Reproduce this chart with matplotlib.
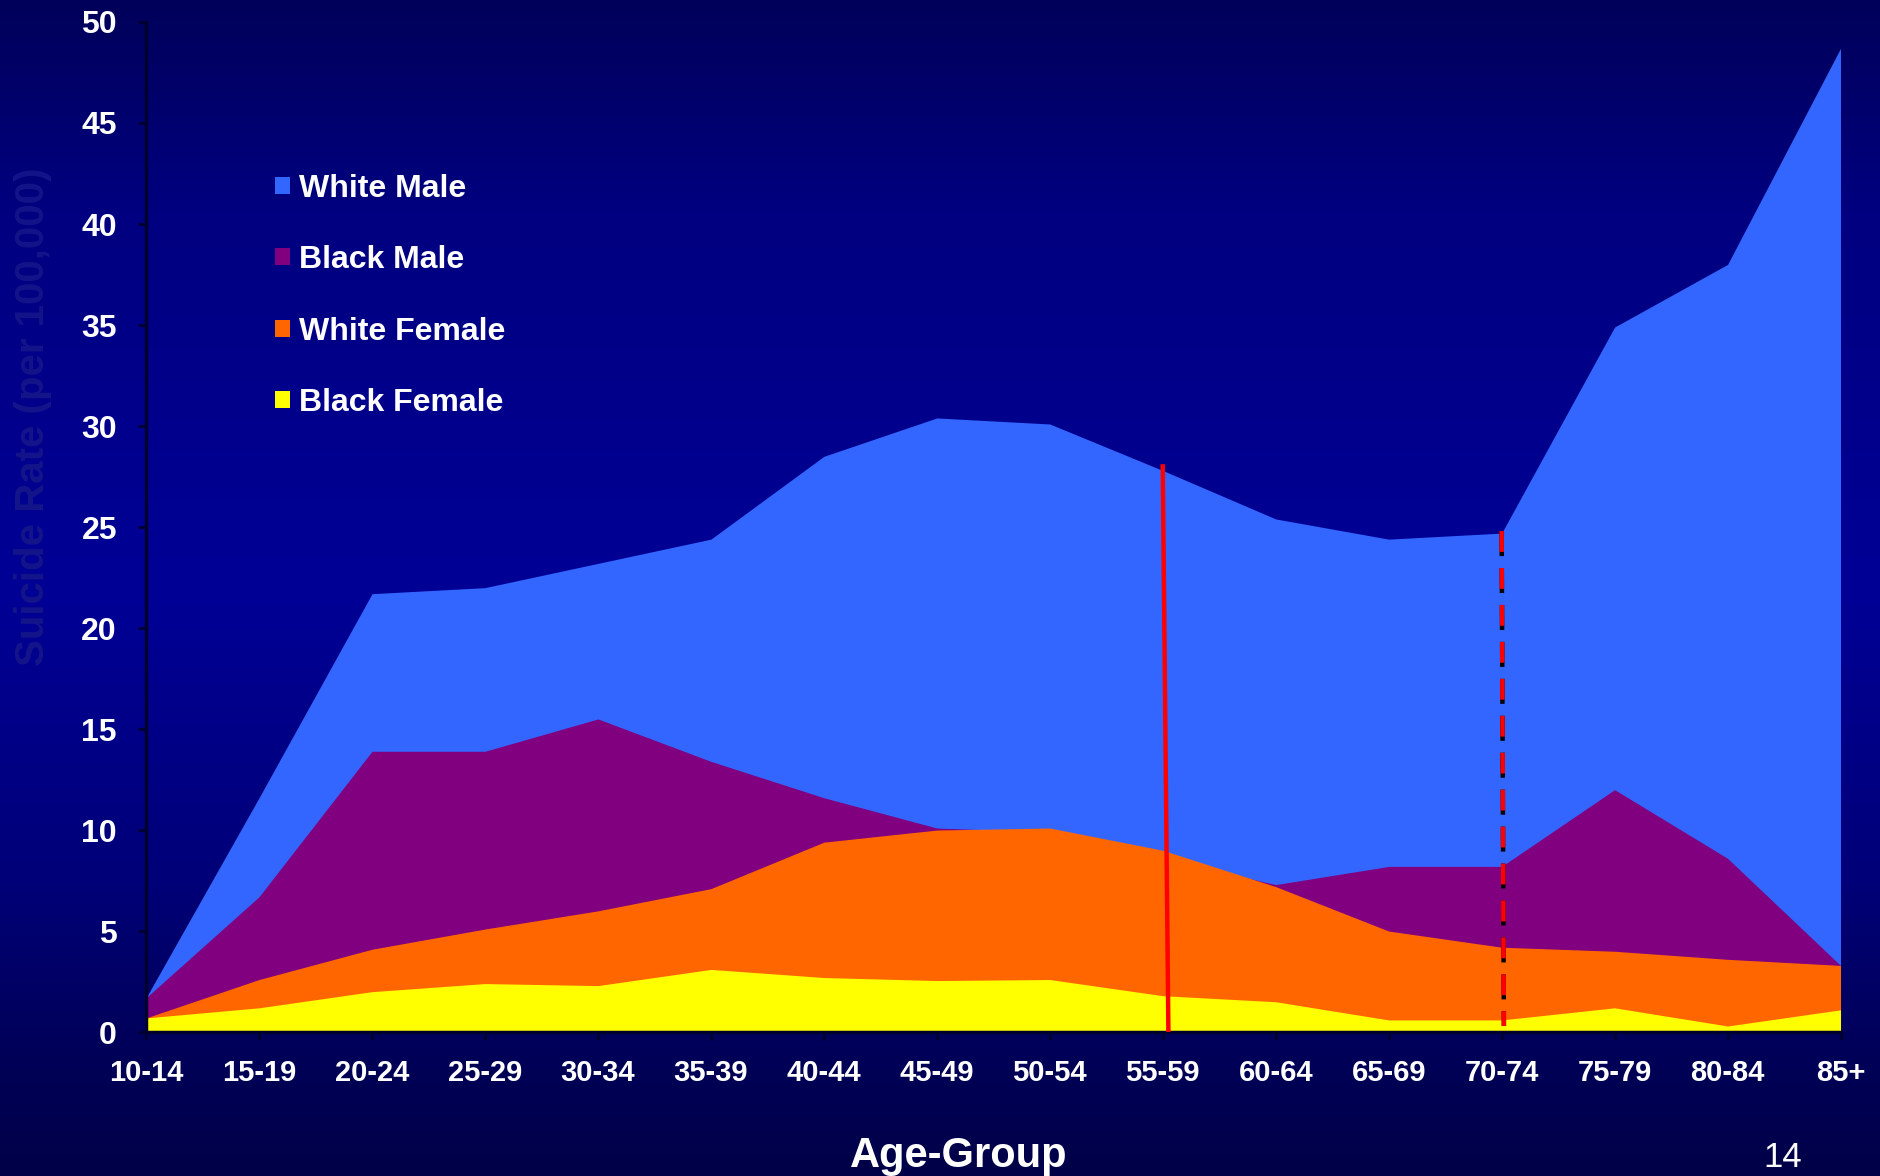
import numpy as np
import matplotlib
matplotlib.use("Agg")
import matplotlib.pyplot as plt
from matplotlib.patches import Patch
from matplotlib.colors import LinearSegmentedColormap

plt.rcParams['lines.scale_dashes'] = False

age_groups = ['10-14', '15-19', '20-24', '25-29', '30-34', '35-39', '40-44', '45-49',
              '50-54', '55-59', '60-64', '65-69', '70-74', '75-79', '80-84', '85+']

white_male = [1.7, 11.6, 21.7, 22.0, 23.2, 24.4, 28.5, 30.4, 30.1, 27.8, 25.4, 24.4, 24.7, 34.9, 38.0, 48.7]
black_male = [1.7, 6.7, 13.9, 13.9, 15.5, 13.4, 11.6, 10.1, 9.9, 8.6, 7.3, 8.2, 8.2, 12.0, 8.6, 3.3]
white_female = [0.7, 2.6, 4.1, 5.1, 6.0, 7.1, 9.4, 10.0, 10.1, 9.0, 7.2, 5.0, 4.2, 4.0, 3.6, 3.3]
black_female = [0.7, 1.2, 2.0, 2.4, 2.3, 3.1, 2.7, 2.55, 2.6, 1.8, 1.5, 0.6, 0.6, 1.2, 0.3, 1.1]

series = [('White Male', white_male, '#3366ff'),
          ('Black Male', black_male, '#800080'),
          ('White Female', white_female, '#ff6600'),
          ('Black Female', black_female, '#ffff00')]

# marker lines: (age group index, top value)
solid_mark = (9, 28.0)
dashed_mark = (12, 24.8)

fig = plt.figure(figsize=(18.8, 11.76), dpi=100)

# background gradient
bg = fig.add_axes([0, 0, 1, 1], zorder=-10)
cmap = LinearSegmentedColormap.from_list('bg', [
    (0.0, '#00005a'), (0.18, '#000080'), (0.5, '#000096'),
    (0.75, '#000078'), (0.9, '#000058'), (1.0, '#000048')])
grad = np.linspace(0, 1, 256).reshape(-1, 1)
bg.imshow(grad, aspect='auto', cmap=cmap, extent=[0, 1, 1, 0])
bg.axis('off')

ax = fig.add_axes([0.0777, 0.1224, 0.9013, 0.8589])
ax.set_facecolor('none')

x = np.arange(len(age_groups))
for name, vals, col in series:
    ax.fill_between(x, 0, vals, color=col, linewidth=0)

# red marker lines
ax.plot([solid_mark[0], solid_mark[0] + 0.05], [solid_mark[1], 0], color='red', lw=3.2, zorder=5)
ax.plot([dashed_mark[0], dashed_mark[0] + 0.02], [dashed_mark[1], 0.3], color='black', lw=3.2,
        dashes=(18, 8.6), zorder=5)
ax.plot([dashed_mark[0], dashed_mark[0] + 0.02], [dashed_mark[1], 0.3], color='red', lw=3.2,
        dashes=(15, 11.6), zorder=6)

ax.set_xlim(0, len(age_groups) - 1)
ax.set_ylim(0, 50)
ax.set_xticks(x)
ax.set_xticklabels(age_groups)
ax.set_yticks(np.arange(0, 51, 5))

font = ['Liberation Sans', 'DejaVu Sans']
for lab in ax.get_xticklabels():
    lab.set_family(font)
    lab.set_fontsize(21)
    lab.set_fontweight('bold')
for lab in ax.get_yticklabels():
    lab.set_family(font)
    lab.set_fontsize(23)
    lab.set_fontweight('bold')

ax.tick_params(axis='both', color='#000030', labelcolor='white', length=6, width=2)
ax.tick_params(axis='x', pad=13.5)
ax.tick_params(axis='y', pad=15)
for s in ['top', 'right']:
    ax.spines[s].set_visible(False)
for s in ['left', 'bottom']:
    ax.spines[s].set_color('#000030')
    ax.spines[s].set_linewidth(2.5)

handles = [Patch(facecolor=c, edgecolor='none', label=n) for n, v, c in series]
ax.legend(handles=handles, loc='upper left', bbox_to_anchor=(0.138, 0.866),
          bbox_transform=fig.transFigure, frameon=False, handlelength=0.45,
          handleheight=0.45, handletextpad=0.3, labelspacing=1.30, borderpad=0,
          prop={'family': font, 'weight': 'bold', 'size': 23},
          labelcolor='white')

fig.text(0.0175, 0.646, 'Suicide Rate (per 100,000)', rotation=90, color='#14148a',
         fontsize=29, fontweight='bold', family=font, ha='center', va='center')
fig.text(0.510, 0.008, 'Age-Group', color='white', fontsize=30, fontweight='bold',
         family=font, ha='center', va='baseline')
fig.text(0.948, 0.008, '14', color='white', fontsize=25,
         family=font, ha='center', va='baseline')

fig.savefig('out.png', dpi=100)
